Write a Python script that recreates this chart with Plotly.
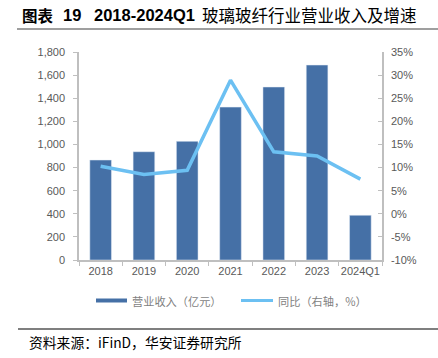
import plotly.graph_objects as go

categories = ["2018", "2019", "2020", "2021", "2022", "2023", "2024Q1"]
revenue = [865, 937, 1027, 1323, 1497, 1687, 387]
growth = [10.3, 8.5, 9.4, 28.9, 13.4, 12.5, 7.5]
left_ticks = [0, 200, 400, 600, 800, 1000, 1200, 1400, 1600, 1800]
right_ticks = [-10, -5, 0, 5, 10, 15, 20, 25, 30, 35]
right_labels = [f"{v}%" for v in right_ticks]

BAR = "#4570A6"
LINE = "#6CC0F2"
AXIS = "#BFBFBF"
TXT = "#595959"
FONT = "Liberation Sans, Noto Sans CJK SC, sans-serif"
CJK = "Noto Sans CJK SC, sans-serif"

W, H = 438, 358
L, R, T, B = 79, 382, 52, 260

fig = go.Figure()
fig.add_trace(go.Bar(x=categories, y=revenue, marker_color=BAR, width=0.5,
                     name="营业收入（亿元）", showlegend=False))
fig.add_trace(go.Scatter(x=categories, y=growth, yaxis="y2", mode="lines",
                         line=dict(color=LINE, width=3.5), name="同比（右轴，%）",
                         showlegend=False))

def px_x(p):
    return (p - L) / (R - L)

def px_y(p):
    return (B - p) / (B - T)

shapes = []
annotations = []
# title line
shapes.append(dict(type="line", xref="paper", yref="paper", x0=px_x(17), x1=px_x(438),
                   y0=px_y(29), y1=px_y(29), line=dict(color="#7F7F7F", width=1.5)))
# source line
shapes.append(dict(type="line", xref="paper", yref="paper", x0=px_x(18), x1=px_x(438),
                   y0=px_y(329), y1=px_y(329), line=dict(color="#000000", width=1.2)))
# legend swatches
shapes.append(dict(type="rect", xref="paper", yref="paper", x0=px_x(96), x1=px_x(127),
                   y0=px_y(302.5), y1=px_y(298.5), line=dict(width=0), fillcolor=BAR))
shapes.append(dict(type="line", xref="paper", yref="paper", x0=px_x(241), x1=px_x(273),
                   y0=px_y(300.5), y1=px_y(300.5), line=dict(color=LINE, width=3)))

def note(text, x, y, size, color="#000000", family=CJK):
    annotations.append(dict(text=text, xref="paper", yref="paper", x=px_x(x), y=px_y(y),
                            xanchor="left", yanchor="middle", showarrow=False,
                            font=dict(family=family, size=size, color=color)))

note("<b>图表</b>", 20, 15, 15.5)
note("<b>19</b>", 61, 15, 16.5, family="Liberation Sans, sans-serif")
note("<b>2018-2024Q1</b>", 92, 15, 16.5, family="Liberation Sans, sans-serif")
note("玻璃玻纤行业营业收入及增速", 200, 15, 16.5)
note("资料来源：iFinD，华安证券研究所", 27, 342, 13.8)
note("营业收入（亿元）", 130, 300.5, 11.2, color="#7F7F7F")
note("同比（右轴，%）", 276, 300.5, 11.2, color="#7F7F7F")

fig.update_layout(
    width=W, height=H,
    margin=dict(l=L, r=W - R, t=T, b=H - B, pad=0, autoexpand=False),
    paper_bgcolor="white", plot_bgcolor="white",
    showlegend=False,
    bargap=0.5,
    font=dict(family=FONT, size=11, color=TXT),
    xaxis=dict(type="category", showline=True, linecolor=AXIS, linewidth=1.5,
               ticks="outside", tickson="boundaries", ticklen=4, tickcolor=AXIS,
               showgrid=False, tickfont=dict(size=11, color=TXT), tickangle=0,
               automargin=False, fixedrange=True),
    yaxis=dict(range=[0, 1800], tickvals=left_ticks, tickformat=",d",
               showline=True, linecolor=AXIS, linewidth=1.5, ticks="outside",
               ticklen=4, tickcolor=AXIS, showgrid=False, zeroline=False,
               tickfont=dict(size=11, color=TXT), ticklabelstandoff=6,
               automargin=False),
    yaxis2=dict(range=[-10, 35], tickvals=right_ticks, ticktext=right_labels,
                overlaying="y", side="right", showline=True, linecolor=AXIS,
                linewidth=1.5, ticks="inside", ticklen=4, tickcolor=AXIS,
                showgrid=False, zeroline=False, tickfont=dict(size=11, color=TXT),
                ticklabelstandoff=5, automargin=False),
    shapes=shapes, annotations=annotations,
)

fig.write_html("out.html", config={"displayModeBar": False},
               post_script="document.body.style.margin='0';document.body.style.overflow='hidden';")
